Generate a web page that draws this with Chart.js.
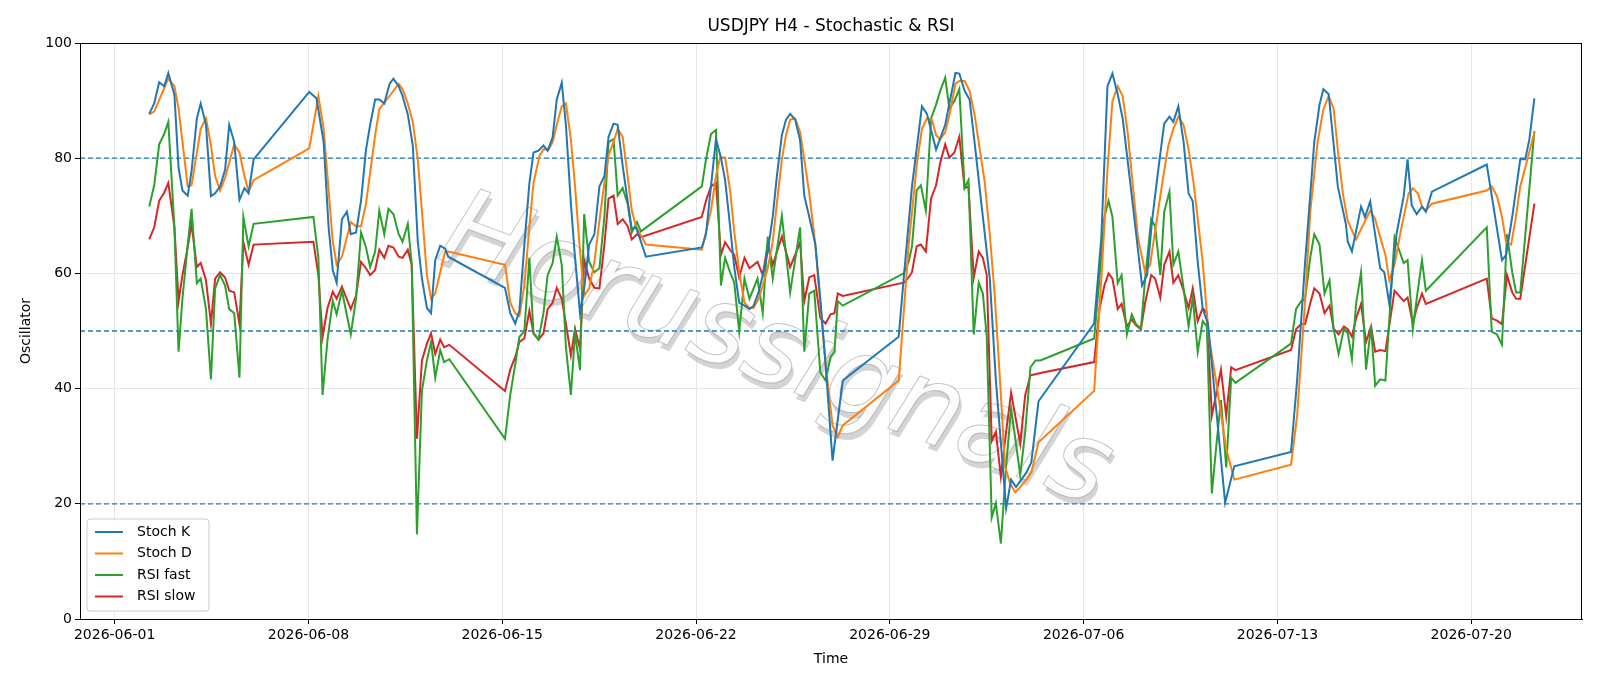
<!DOCTYPE html>
<html>
<head>
<meta charset="utf-8">
<script src="https://cdn.jsdelivr.net/npm/chart.js@4.4.0/dist/chart.umd.min.js"></script>
<style>
  html, body { margin: 0; padding: 0; background: #fff; }
  #wrap { width: 1600px; height: 686px; }
</style>
</head>
<body>
<div id="wrap"><canvas id="oscChart"></canvas></div>
<script>
// x = days since 2026-06-01 00:00
const tickDays = [0, 7, 14, 21, 28, 35, 42, 49];
const tickLabels = ["2026-06-01", "2026-06-08", "2026-06-15", "2026-06-22", "2026-06-29", "2026-07-06", "2026-07-13", "2026-07-20"];
const levels = [20, 50, 80];

const kX = [1.25,1.43,1.61,1.79,1.94,2.16,2.31,2.45,2.64,2.78,2.97,3.11,3.30,3.48,3.63,3.81,3.99,4.14,4.32,4.51,4.69,4.84,5.02,7.03,7.29,7.55,7.73,7.88,8.02,8.21,8.39,8.53,8.72,8.90,9.08,9.23,9.41,9.56,9.74,9.93,10.07,10.26,10.40,10.59,10.77,10.95,11.10,11.28,11.43,11.58,11.76,11.94,12.05,14.10,14.29,14.47,14.62,14.80,14.98,15.13,15.31,15.49,15.64,15.82,15.97,16.15,16.30,16.48,16.63,16.81,16.96,17.14,17.33,17.51,17.69,17.84,18.02,18.17,18.35,18.53,18.68,18.83,19.01,19.19,21.21,21.36,21.54,21.72,21.90,22.05,22.23,22.38,22.56,22.75,22.93,23.08,23.26,23.41,23.59,23.77,23.92,24.10,24.25,24.40,24.58,24.76,24.91,25.09,25.31,25.49,25.68,25.93,26.30,28.32,28.50,28.80,29.16,29.34,29.67,30.00,30.37,30.51,30.70,30.88,31.06,31.36,31.61,31.83,32.20,32.38,32.56,32.75,32.93,33.11,33.37,35.38,35.64,35.86,36.04,36.23,36.41,36.74,37.11,37.29,37.47,37.69,37.91,38.10,38.24,38.42,38.61,38.79,38.94,39.12,39.30,39.49,40.11,40.44,42.49,42.71,43.00,43.33,43.52,43.66,43.85,44.18,44.47,44.54,44.69,45.02,45.16,45.35,45.71,45.86,46.04,46.30,46.56,46.70,46.85,47.03,47.22,47.36,47.58,49.56,50.11,50.26,50.48,50.77,50.95,51.10,51.28];
const kY = [87.7,89.5,93.2,92.5,94.8,91.0,78.3,74.4,73.5,77.8,86.9,89.5,85.8,73.4,73.9,75.1,78.0,85.8,82.8,72.8,74.8,73.9,79.8,91.5,90.4,82.8,68.0,60.6,58.4,69.4,70.7,66.8,67.1,72.6,81.5,85.8,90.2,90.2,89.5,92.9,93.8,92.5,90.8,87.6,82.2,65.5,59.1,54.0,53.1,62.3,64.8,64.3,62.9,57.5,53.1,51.3,53.5,65.0,75.6,81.0,81.3,82.2,81.3,83.6,90.2,93.1,85.8,72.1,62.7,53.1,57.4,65.0,66.8,75.1,76.9,83.7,86.0,85.8,78.7,72.6,67.7,68.0,65.5,62.9,64.5,66.8,75.1,83.3,80.1,76.2,68.2,61.1,54.9,54.4,53.8,54.4,56.7,59.7,63.8,69.8,76.9,84.0,86.7,87.7,86.7,83.1,73.5,69.8,65.0,55.6,44.2,27.5,41.4,49.0,59.1,75.1,89.0,87.7,81.5,85.8,94.8,94.7,91.7,90.2,82.8,69.8,59.1,41.4,19.2,24.2,22.9,24.2,25.4,27.2,37.8,51.3,66.3,92.5,94.7,91.1,86.9,73.4,57.9,59.7,69.1,77.8,86.0,87.2,86.3,89.0,82.8,73.9,72.5,62.0,53.8,51.3,20.2,26.5,29.0,41.4,62.0,82.8,89.3,92.0,91.1,75.1,68.6,65.5,63.8,71.6,69.8,72.5,60.9,60.2,54.7,66.8,73.4,79.8,71.8,70.3,71.6,70.7,74.2,78.9,62.3,63.2,69.8,79.8,79.8,83.3,90.4];

const dX = [1.25,1.43,1.94,2.16,2.31,2.64,2.78,3.11,3.30,3.48,3.63,3.81,3.99,4.32,4.51,4.69,4.84,5.02,7.03,7.36,7.55,7.88,8.02,8.21,8.53,8.72,8.90,9.08,9.41,9.56,9.93,10.26,10.40,10.59,10.77,10.95,11.10,11.28,11.43,11.58,11.76,11.94,12.05,14.10,14.29,14.47,14.62,14.80,14.98,15.13,15.35,15.49,15.68,15.82,15.97,16.15,16.30,16.48,16.63,16.81,16.96,17.14,17.33,17.51,17.69,17.84,18.02,18.17,18.35,18.53,18.68,18.83,19.19,21.21,21.54,21.72,21.87,22.05,22.23,22.38,22.56,22.75,22.93,23.08,23.26,23.41,23.59,23.77,23.92,24.10,24.25,24.40,24.58,24.76,24.91,25.09,25.31,25.49,25.68,25.93,26.12,26.30,28.32,28.50,28.68,28.97,29.16,29.34,29.52,29.67,29.82,30.00,30.18,30.37,30.51,30.70,30.88,31.06,31.25,31.43,31.61,31.79,31.98,32.16,32.34,32.53,32.71,32.93,33.11,33.37,35.38,35.64,35.86,36.04,36.23,36.41,36.59,36.78,36.96,37.22,37.40,37.58,37.84,38.06,38.24,38.42,38.61,38.79,38.97,39.30,39.52,39.78,40.15,40.44,42.49,42.71,42.97,43.19,43.45,43.66,43.85,44.03,44.18,44.36,44.54,44.84,45.35,45.53,45.71,45.90,46.04,46.23,46.45,46.74,46.89,47.07,47.22,47.36,47.58,49.56,49.74,49.93,50.11,50.26,50.44,50.59,50.77,51.03,51.28];
const dY = [87.6,88.1,93.8,92.5,88.6,75.1,75.3,85.1,86.9,82.2,76.9,74.4,76.6,82.4,81.0,76.9,74.2,76.2,81.7,90.8,85.1,65.5,61.5,62.9,68.9,68.2,68.2,72.1,84.0,88.5,90.8,92.9,92.0,89.5,86.3,79.8,70.9,59.7,55.6,56.5,60.2,63.8,63.8,61.5,54.9,53.1,52.6,57.9,68.0,75.7,80.5,81.5,81.5,82.8,85.8,89.0,89.5,83.3,75.1,63.8,56.1,57.4,62.0,69.1,75.7,80.5,82.8,85.1,83.7,76.9,70.9,68.2,65.0,64.1,70.9,76.9,80.1,80.1,74.4,67.3,60.2,54.9,54.0,54.0,55.6,57.9,60.9,65.5,72.1,79.8,84.0,86.7,86.9,84.5,79.8,73.9,65.0,54.4,44.2,33.6,31.6,33.6,41.4,53.1,65.0,78.7,85.1,86.9,86.7,84.0,83.3,84.5,88.1,92.9,93.4,93.4,91.7,87.6,81.5,75.7,66.8,56.1,41.4,26.5,23.6,22.0,22.9,24.2,25.4,30.7,39.6,59.1,78.0,89.9,92.5,90.8,84.5,75.1,66.3,60.2,61.5,67.3,75.7,82.2,85.1,87.2,85.8,81.5,75.7,62.0,49.0,41.4,29.5,24.2,26.8,35.3,53.1,70.9,82.8,88.5,90.8,88.6,81.5,73.9,69.1,65.9,70.9,69.4,66.3,63.2,58.8,61.5,67.3,73.9,74.8,73.9,71.6,70.9,72.1,74.4,75.1,73.4,69.8,65.4,65.0,69.1,75.1,79.8,84.5];

const fX = [1.25,1.43,1.61,1.79,1.94,2.16,2.31,2.45,2.64,2.78,2.97,3.11,3.30,3.48,3.63,3.81,3.99,4.14,4.32,4.51,4.65,4.84,5.02,7.18,7.36,7.51,7.69,7.88,8.02,8.21,8.53,8.72,8.90,9.08,9.23,9.41,9.56,9.74,9.89,10.07,10.26,10.40,10.59,10.73,10.92,11.10,11.28,11.43,11.58,11.76,11.90,12.09,14.10,14.29,14.47,14.62,14.80,14.98,15.13,15.31,15.49,15.64,15.82,15.97,16.15,16.30,16.48,16.63,16.81,16.96,17.14,17.33,17.51,17.69,17.84,18.02,18.17,18.35,18.53,18.68,18.87,19.01,21.21,21.36,21.54,21.72,21.90,22.05,22.23,22.38,22.56,22.75,22.93,23.22,23.41,23.59,23.77,24.10,24.40,24.76,24.91,25.09,25.27,25.49,25.68,25.86,26.00,26.12,26.30,28.50,28.68,28.80,28.97,29.12,29.30,29.49,29.67,29.82,30.00,30.15,30.33,30.51,30.70,30.84,31.03,31.21,31.36,31.50,31.68,31.83,32.01,32.20,32.38,32.71,32.89,33.08,33.26,33.44,35.38,35.57,35.75,35.90,36.04,36.23,36.37,36.56,36.74,36.89,37.07,37.22,37.44,37.58,37.77,37.91,38.10,38.24,38.42,38.61,38.79,38.94,39.12,39.30,39.45,39.63,39.78,39.96,40.15,40.33,40.48,42.49,42.67,42.86,43.00,43.19,43.33,43.52,43.70,43.88,44.03,44.21,44.40,44.54,44.69,44.84,45.02,45.20,45.38,45.53,45.71,45.90,46.23,46.56,46.70,46.89,47.03,47.22,47.36,49.56,49.74,49.93,50.11,50.29,50.48,50.62,50.77,51.28];
const fY = [71.6,75.3,82.4,84.2,86.3,68.0,46.4,55.6,65.0,71.2,58.3,59.1,53.8,41.6,57.4,59.7,57.9,53.8,53.1,41.9,69.8,64.7,68.6,69.8,62.7,38.9,48.5,55.2,52.9,57.0,49.4,55.6,67.1,64.5,61.1,63.8,70.9,66.8,71.2,70.3,66.8,65.5,68.6,61.8,14.7,39.6,44.9,48.1,41.9,46.7,44.6,45.1,31.3,38.9,44.2,49.0,49.9,62.7,49.6,48.5,53.1,59.7,61.8,66.4,61.5,47.2,38.9,49.6,43.2,70.3,62.0,60.2,60.9,69.8,82.8,83.3,73.5,74.8,72.1,67.1,68.9,67.3,75.1,79.8,84.2,84.9,57.9,62.7,60.2,58.4,49.9,59.1,55.6,59.1,53.1,66.4,59.1,70.0,56.7,68.0,46.4,56.5,57.0,42.8,41.4,45.5,46.4,55.2,54.4,60.0,62.0,64.7,74.4,75.3,70.9,86.9,89.3,91.7,94.0,88.6,89.9,92.0,74.8,76.2,49.4,58.4,56.5,49.0,17.6,20.1,13.1,26.5,36.6,25.0,32.5,43.7,44.9,44.9,48.7,59.1,69.8,72.6,69.8,58.3,59.7,49.4,52.9,51.2,50.4,59.1,69.4,68.2,59.7,70.7,74.2,61.5,63.8,57.4,50.8,55.8,46.4,51.7,50.8,21.8,29.5,38.0,26.3,41.9,41.0,47.8,53.8,55.2,55.6,62.9,66.8,65.0,56.5,58.8,50.3,46.0,50.4,49.6,45.1,54.7,60.2,43.3,50.8,40.5,41.6,41.4,66.3,61.8,62.3,50.3,55.6,62.3,57.0,68.0,49.9,49.4,47.6,66.8,60.2,56.7,56.7,84.7];

const sX = fX;
const sY = [65.9,68.0,72.6,74.0,75.7,68.0,55.2,59.7,64.5,68.6,61.1,61.8,58.8,51.3,59.1,60.2,59.3,57.0,56.7,51.2,65.4,61.5,65.0,65.5,59.7,49.0,54.0,56.8,55.6,57.7,53.8,56.1,62.0,60.9,59.7,60.6,64.1,62.7,64.8,64.5,62.9,62.7,64.1,61.5,31.3,44.9,47.8,49.6,46.0,48.5,47.2,47.6,39.6,43.3,45.5,48.1,48.7,53.5,49.6,48.5,49.6,53.8,54.9,57.5,55.6,51.3,45.8,50.4,46.9,62.3,59.1,57.5,57.4,65.0,73.0,73.5,68.6,69.4,68.2,65.9,66.8,66.3,69.8,72.6,75.1,75.7,63.2,65.4,64.1,63.2,59.3,62.7,60.9,62.0,59.7,65.0,61.5,66.4,61.1,65.4,55.2,59.3,59.7,52.2,51.3,52.9,53.1,56.5,56.1,58.4,59.3,60.2,64.7,65.0,63.8,73.0,75.3,79.2,82.4,80.1,81.0,83.7,74.8,75.1,59.3,63.8,62.7,59.7,30.9,32.5,24.7,32.5,39.3,30.4,38.9,42.3,42.5,42.7,44.6,53.8,57.9,60.0,59.1,53.8,54.7,50.8,52.0,51.0,50.3,54.9,59.7,59.1,55.8,61.5,63.8,58.4,59.7,57.0,54.0,57.4,51.7,54.0,53.1,35.3,38.9,43.3,35.2,43.7,43.2,46.7,50.3,51.2,51.2,54.9,57.4,56.5,53.1,54.4,50.4,49.4,50.8,50.3,49.0,52.2,54.7,48.1,50.8,46.4,46.7,46.5,57.0,55.2,55.8,51.3,54.0,56.5,54.7,59.1,52.2,51.8,51.2,59.7,56.7,55.6,55.6,72.1];

const xMin = -1.25, xMax = 53;

function pts(xs, ys) { return xs.map((x, i) => ({ x: x, y: ys[i] })); }

const seriesStyle = (label, color, data) => ({
  label: label, data: data, borderColor: color, backgroundColor: color,
  borderWidth: 2, pointRadius: 0, tension: 0, fill: false,
});

const levelSets = levels.map(v => ({
  label: "_lvl" + v, data: [{ x: xMin, y: v }, { x: xMax, y: v }],
  borderColor: "#1f77b4", borderWidth: 1.3, borderDash: [5, 3], pointRadius: 0,
}));

const extras = {
  id: "extras",
  beforeDatasetsDraw(chart) {
    const { ctx, chartArea: a } = chart;
    ctx.save();
    ctx.beginPath(); ctx.rect(a.left, a.top, a.right - a.left, a.bottom - a.top); ctx.clip();
    ctx.translate(775, 355);
    ctx.rotate(0.36);
    ctx.font = "italic 110px 'DejaVu Sans'";
    ctx.textAlign = "center"; ctx.textBaseline = "middle";
    ctx.fillStyle = "rgba(160,160,160,0.45)";
    ctx.fillText("Horussignals", 4, 5);
    ctx.fillStyle = "rgba(255,255,255,0.9)";
    ctx.fillText("Horussignals", 0, 0);
    ctx.lineWidth = 1; ctx.strokeStyle = "rgba(140,140,140,0.5)";
    ctx.strokeText("Horussignals", 0, 0);
    ctx.restore();
  },
  afterDraw(chart) {
    const { ctx, chartArea: a } = chart;
    ctx.save();
    ctx.strokeStyle = "#000"; ctx.lineWidth = 1;
    ctx.strokeRect(a.left + 0.5, a.top + 0.5, a.right - a.left - 1, a.bottom - a.top);
    ctx.fillStyle = "#000"; ctx.font = "17px 'DejaVu Sans'"; ctx.textAlign = "center";
    ctx.fillText("USDJPY H4 - Stochastic & RSI", (a.left + a.right) / 2, 31);
    // legend
    const items = chart.data.datasets.filter(d => !d.label.startsWith("_"));
    const lx = a.left + 7, ly = a.bottom - 100, lw = 122, lh = 92;
    ctx.fillStyle = "rgba(255,255,255,0.85)"; ctx.strokeStyle = "#ccc";
    ctx.beginPath(); ctx.roundRect(lx, ly, lw, lh, 3); ctx.fill(); ctx.stroke();
    ctx.font = "14px 'DejaVu Sans'"; ctx.textAlign = "left"; ctx.textBaseline = "middle";
    items.forEach((d, i) => {
      const y = ly + 13 + i * 21.5;
      ctx.strokeStyle = d.borderColor; ctx.lineWidth = 2;
      ctx.beginPath(); ctx.moveTo(lx + 8, y); ctx.lineTo(lx + 36, y); ctx.stroke();
      ctx.fillStyle = "#000"; ctx.fillText(d.label, lx + 50, y);
    });
    ctx.restore();
  },
};

new Chart(document.getElementById("oscChart"), {
  type: "line",
  data: {
    datasets: [
      seriesStyle("Stoch K", "#1f77b4", pts(kX, kY)),
      seriesStyle("Stoch D", "#ff7f0e", pts(dX, dY)),
      seriesStyle("RSI fast", "#2ca02c", pts(fX, fY)),
      seriesStyle("RSI slow", "#d62728", pts(sX, sY)),
      ...levelSets,
    ],
  },
  options: {
    responsive: true, maintainAspectRatio: false, animation: false,
    layout: { padding: { top: 43, right: 18, left: 14, bottom: 14 } },
    plugins: { legend: { display: false }, title: { display: false }, tooltip: { enabled: false } },
    scales: {
      x: {
        type: "linear", min: xMin, max: xMax,
        afterBuildTicks: s => { s.ticks = tickDays.map(v => ({ value: v })); },
        afterFit: s => { s.height = 53; },
        ticks: { color: "#000", font: { size: 14, family: "DejaVu Sans" }, maxRotation: 0,
          callback: v => tickLabels[tickDays.indexOf(v)] },
        grid: { color: "#e6e6e6", drawTicks: true, tickLength: 5, tickColor: "#000" },
        border: { color: "#000" },
        title: { display: true, text: "Time", color: "#000", font: { size: 14, family: "DejaVu Sans" }, padding: { top: 4 } },
      },
      y: {
        min: 0, max: 100,
        afterFit: s => { s.width = 66; },
        ticks: { stepSize: 20, color: "#000", font: { size: 14, family: "DejaVu Sans" } },
        grid: { color: "#e6e6e6", tickLength: 5, tickColor: "#000" },
        border: { color: "#000" },
        title: { display: true, text: "Oscillator", color: "#000", font: { size: 14, family: "DejaVu Sans" } },
      },
    },
  },
  plugins: [extras],
});
</script>
</body>
</html>
